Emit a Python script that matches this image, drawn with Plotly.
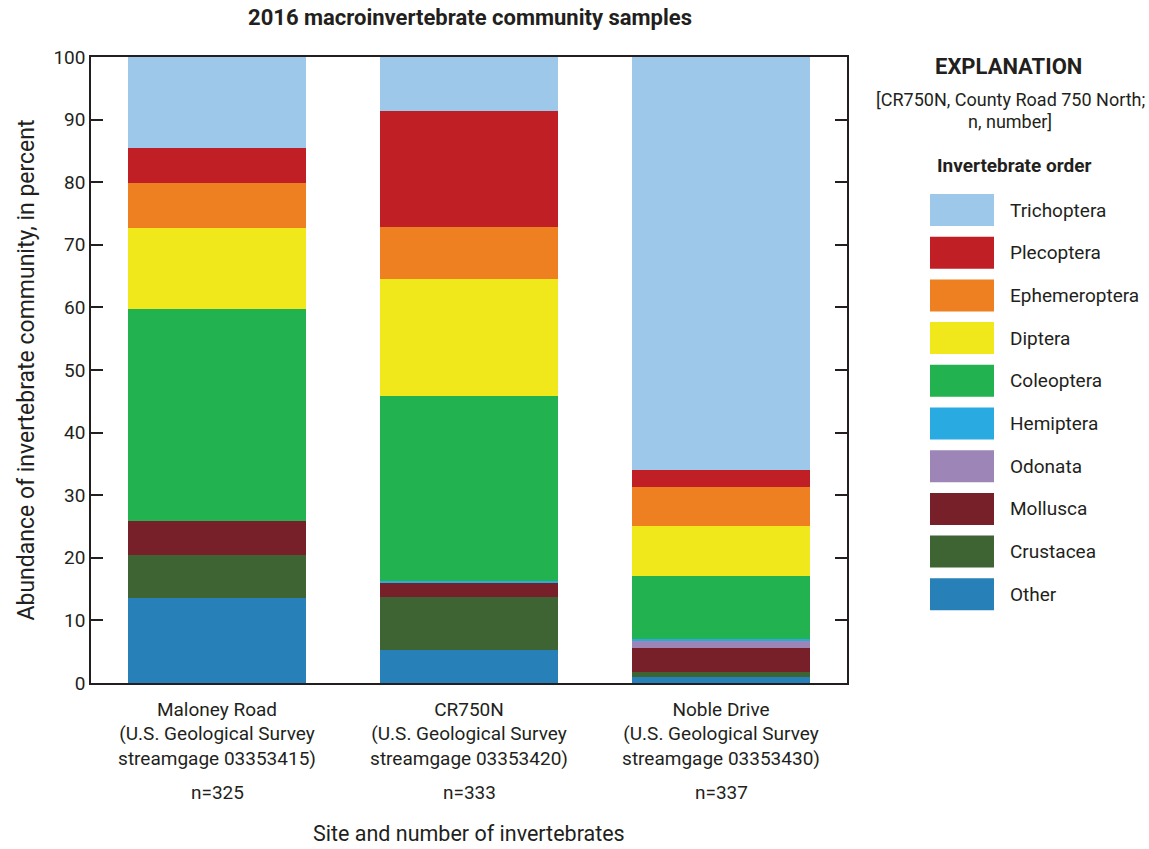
import plotly.graph_objects as go

# Sites and sample sizes
sites = ["Maloney Road", "CR750N", "Noble Drive"]
site_labels = [
    "Maloney Road<br>(U.S. Geological Survey<br>streamgage 03353415)",
    "CR750N<br>(U.S. Geological Survey<br>streamgage 03353420)",
    "Noble Drive<br>(U.S. Geological Survey<br>streamgage 03353430)",
]
n_counts = ["n=325", "n=333", "n=337"]

# Percent abundance by invertebrate order (Maloney Road, CR750N, Noble Drive)
other = [13.5, 5.3, 0.9]
crustacea = [6.9, 8.5, 0.8]
mollusca = [5.4, 2.1, 3.9]
odonata = [0.0, 0.0, 1.2]
hemiptera = [0.0, 0.4, 0.3]
coleoptera = [34.0, 29.6, 10.0]
diptera = [12.9, 18.7, 8.0]
ephemeroptera = [7.1, 8.2, 6.2]
plecoptera = [5.7, 18.5, 2.7]
trichoptera = [14.5, 8.7, 66.0]

y_ticks = [0, 10, 20, 30, 40, 50, 60, 70, 80, 90, 100]

# Stack order, bottom to top
orders = [
    ("Other", other, "#2780B8"),
    ("Crustacea", crustacea, "#3E6433"),
    ("Mollusca", mollusca, "#77202A"),
    ("Odonata", odonata, "#9E85B8"),
    ("Hemiptera", hemiptera, "#29ABE2"),
    ("Coleoptera", coleoptera, "#22B24F"),
    ("Diptera", diptera, "#F0E81A"),
    ("Ephemeroptera", ephemeroptera, "#EE8022"),
    ("Plecoptera", plecoptera, "#C01F26"),
    ("Trichoptera", trichoptera, "#9DC8E9"),
]

FONT = "Roboto, Liberation Sans, sans-serif"
INK = "#231F20"

W, H = 1149, 849
L, R, T, B = 91, 847, 57, 683


def px(x):
    return (x - L) / (R - L)


def py(y):
    return (B - y) / (B - T)


fig = go.Figure()
for name, vals, color in orders:
    fig.add_trace(go.Bar(
        x=sites, y=vals, name=name,
        marker=dict(color=color, line=dict(width=0)),
        showlegend=False,
    ))

shapes = []
annotations = []


def note(x, y, text, size, xanchor="center"):
    annotations.append(dict(
        x=px(x), y=py(y), xref="paper", yref="paper", text=text, showarrow=False,
        xanchor=xanchor, yanchor="middle", font=dict(family=FONT, size=size, color=INK),
    ))


# Sample size under each site label
for site, n in zip(sites, n_counts):
    annotations.append(dict(
        x=site, xref="x", y=py(792), yref="paper", text=n, showarrow=False,
        font=dict(family=FONT, size=19, color=INK), xanchor="center", yanchor="middle",
    ))

# Horizontal axis title
note(469, 833, "Site and number of invertebrates", 21.5)

# Explanation block
note(1008, 66, "<b>EXPLANATION</b>", 22)
note(1010, 100, "[CR750N, County Road 750 North;", 18)
note(1010, 122, "n, number]", 18)
note(1014, 165, "<b>Invertebrate order</b>", 19)

top = 194
step = 42.7
for i, (name, vals, color) in enumerate(reversed(orders)):
    y0 = top + i * step
    shapes.append(dict(type="rect", xref="paper", yref="paper",
                       x0=px(930), x1=px(994), y0=py(y0), y1=py(y0 + 32),
                       fillcolor=color, line=dict(width=0)))
    note(1008, y0 + 16, name, 19, xanchor="left")

fig.update_layout(
    width=W, height=H,
    margin=dict(l=L, r=W - R, t=T, b=H - B),
    paper_bgcolor="white", plot_bgcolor="white",
    barmode="stack", bargap=0.29,
    title=dict(text="<b>2016 macroinvertebrate community samples</b>", x=px(470), xref="paper",
               xanchor="center", y=1 - 17 / H, yanchor="middle",
               font=dict(family=FONT, size=22, color=INK)),
    font=dict(family=FONT, color=INK),
    shapes=shapes,
    annotations=annotations,
)

fig.update_xaxes(
    range=[-0.5, 2.5], tickvals=sites, ticktext=site_labels,
    tickfont=dict(family=FONT, size=19, color=INK), ticklabelstandoff=8,
    showline=True, linecolor=INK, linewidth=1.5, mirror=True,
    ticks="", showgrid=False, zeroline=False,
)
fig.update_yaxes(
    range=[0, 100], tickvals=y_ticks,
    tickfont=dict(family=FONT, size=19, color=INK),
    showline=True, linecolor=INK, linewidth=1.5, mirror="ticks",
    ticks="inside", ticklen=12, tickwidth=1.5, tickcolor=INK,
    showgrid=False, zeroline=False,
    title=dict(text="Abundance of invertebrate community, in percent", standoff=12,
               font=dict(family=FONT, size=23, color=INK)),
)

fig.write_html("out.html")
